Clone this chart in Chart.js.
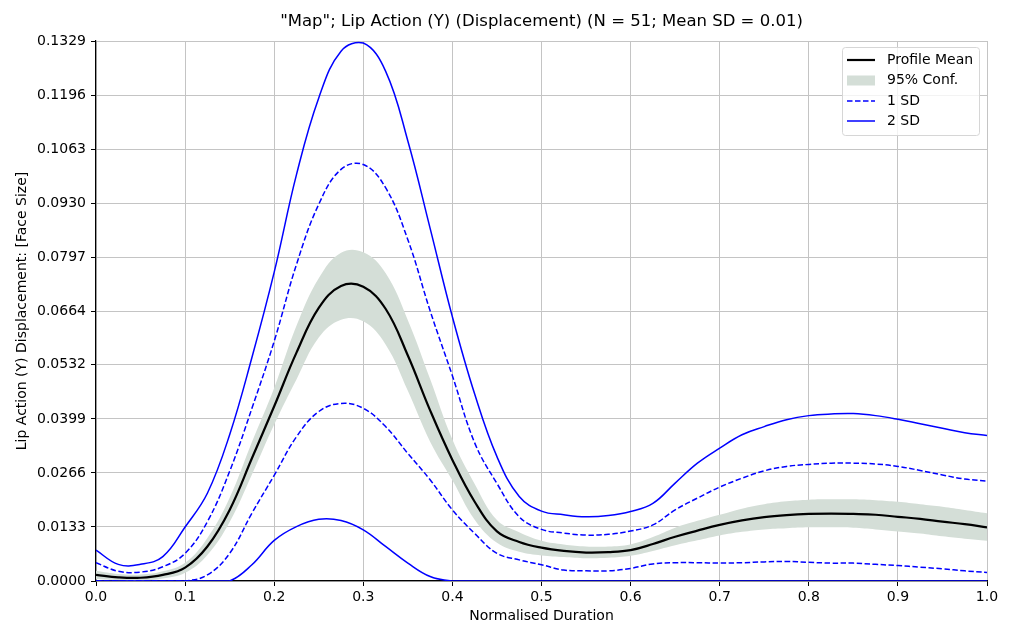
<!DOCTYPE html>
<html>
<head>
<meta charset="utf-8">
<script src="https://cdn.jsdelivr.net/npm/chart.js@4.4.1/dist/chart.umd.min.js"></script>
<style>
html,body{margin:0;padding:0;background:#fff;}
canvas{display:block;}
</style>
</head>
<body>
<canvas id="c" width="1012" height="626"></canvas>
<script>
// ---- data ----
const xs = [0,0.025,0.05,0.075,0.1,0.125,0.15,0.175,0.2,0.225,0.25,0.275,0.3,0.325,0.35,0.375,0.4,0.425,0.45,0.475,0.5,0.525,0.55,0.575,0.6,0.625,0.65,0.675,0.7,0.725,0.75,0.775,0.8,0.825,0.85,0.875,0.9,0.925,0.95,0.975,1.0];
const profileMean = [0.0015,0.0009,0.0008,0.0015,0.0033,0.0085,0.0175,0.0302,0.0430,0.0562,0.0672,0.0726,0.0724,0.0670,0.0555,0.0420,0.0298,0.0195,0.0122,0.0096,0.0082,0.0074,0.0070,0.0071,0.0076,0.0091,0.0109,0.0124,0.0138,0.0149,0.0157,0.0162,0.0165,0.0166,0.0165,0.0163,0.0158,0.0153,0.0146,0.0140,0.0132];
const confUpper = [0.0025,0.0017,0.0016,0.0024,0.0045,0.0106,0.0205,0.0342,0.0475,0.0628,0.0745,0.0808,0.0809,0.0758,0.0642,0.0497,0.0348,0.0239,0.0150,0.0120,0.0099,0.0090,0.0085,0.0085,0.0090,0.0108,0.0131,0.0148,0.0163,0.0178,0.0189,0.0196,0.0200,0.0201,0.0201,0.0199,0.0195,0.0189,0.0183,0.0175,0.0167];
const confLower = [0.0005,0.0002,0.0001,0.0006,0.0020,0.0064,0.0145,0.0262,0.0385,0.0496,0.0599,0.0643,0.0639,0.0582,0.0468,0.0343,0.0248,0.0151,0.0094,0.0072,0.0063,0.0059,0.0056,0.0057,0.0062,0.0074,0.0088,0.0100,0.0112,0.0121,0.0127,0.0130,0.0132,0.0132,0.0131,0.0127,0.0122,0.0117,0.0110,0.0104,0.0099];
const sd1Upper = [0.0045,0.0024,0.0022,0.0035,0.0068,0.0146,0.0270,0.0425,0.0590,0.0779,0.0927,0.1013,0.1025,0.0968,0.0840,0.0665,0.0505,0.0340,0.0240,0.0158,0.0127,0.0118,0.0113,0.0115,0.0123,0.0138,0.0175,0.0204,0.0231,0.0253,0.0271,0.0282,0.0287,0.0290,0.0290,0.0288,0.0282,0.0272,0.0261,0.0251,0.0246];
const sd1Lower = [0,0,0,0,0,0.0015,0.0068,0.0167,0.0260,0.0355,0.0417,0.0437,0.0425,0.0380,0.0314,0.0249,0.0175,0.0117,0.0068,0.0052,0.0040,0.0027,0.0025,0.0025,0.0031,0.0042,0.0045,0.0045,0.0044,0.0045,0.0047,0.0048,0.0046,0.0044,0.0044,0.0041,0.0038,0.0034,0.0030,0.0025,0.0021];
const sd2Upper = [0.0076,0.0041,0.0041,0.0060,0.0133,0.0216,0.0360,0.0550,0.0760,0.1000,0.1189,0.1304,0.1324,0.1255,0.1083,0.0868,0.0650,0.0460,0.0306,0.0208,0.0172,0.0163,0.0158,0.0161,0.0171,0.0191,0.0241,0.0290,0.0327,0.0360,0.0380,0.0397,0.0407,0.0411,0.0412,0.0407,0.0398,0.0387,0.0376,0.0365,0.0358];
const sd2Lower = [0,0,0,0,0,0,0,0.0040,0.0100,0.0134,0.0152,0.0149,0.0126,0.0085,0.0044,0.0011,0,0,0,0,0,0,0,0,0,0,0,0,0,0,0,0,0,0,0,0,0,0,0,0,0];
const yTicks = [0.0000,0.0133,0.0266,0.0399,0.0532,0.0664,0.0797,0.0930,0.1063,0.1196,0.1329];
const xTickStep = 0.1;
const titleText = '"Map"; Lip Action (Y) (Displacement) (N = 51; Mean SD = 0.01)';
const xTitle = 'Normalised Duration';
const yTitle = 'Lip Action (Y) Displacement: [Face Size]';
const legendLabels = ['Profile Mean','95% Conf.','1 SD','2 SD'];

// ---- styling ----
const FONT = "'DejaVu Sans', sans-serif";
const BAND = 'rgb(212,222,215)';
const BLUE = '#0000ff';
const pts = arr => xs.map((x,i) => ({x: x, y: arr[i]}));

Chart.defaults.color = '#000';
Chart.defaults.font.family = FONT;
Chart.defaults.font.size = 14;

const lineBase = {pointRadius: 0, pointHoverRadius: 0, tension: 0.4, fill: false};

const overlay = {
  id: 'overlay',
  afterDraw(chart) {
    const ctx = chart.ctx, ca = chart.chartArea;
    ctx.save();
    ctx.fillStyle = '#000';
    ctx.font = '16.5px ' + FONT;
    ctx.textAlign = 'center';
    ctx.textBaseline = 'middle';
    ctx.fillText(titleText, (ca.left + ca.right) / 2, 22);
    const bx = 842.5, by = 47.5, bw = 137, bh = 88, r = 3;
    ctx.beginPath();
    ctx.moveTo(bx + r, by);
    ctx.lineTo(bx + bw - r, by); ctx.arcTo(bx + bw, by, bx + bw, by + r, r);
    ctx.lineTo(bx + bw, by + bh - r); ctx.arcTo(bx + bw, by + bh, bx + bw - r, by + bh, r);
    ctx.lineTo(bx + r, by + bh); ctx.arcTo(bx, by + bh, bx, by + bh - r, r);
    ctx.lineTo(bx, by + r); ctx.arcTo(bx, by, bx + r, by, r);
    ctx.closePath();
    ctx.fillStyle = 'rgba(255,255,255,0.8)';
    ctx.fill();
    ctx.strokeStyle = '#d6d6d6';
    ctx.lineWidth = 1;
    ctx.stroke();
    const sx0 = 847, sx1 = 875, tx = 887;
    const rows = [60, 80.5, 101, 121];
    ctx.lineCap = 'butt';
    ctx.beginPath(); ctx.strokeStyle = '#000'; ctx.lineWidth = 2.2; ctx.setLineDash([]);
    ctx.moveTo(sx0, rows[0]); ctx.lineTo(sx1, rows[0]); ctx.stroke();
    ctx.fillStyle = BAND; ctx.fillRect(sx0, rows[1] - 5, sx1 - sx0, 10);
    ctx.beginPath(); ctx.strokeStyle = BLUE; ctx.lineWidth = 1.5; ctx.setLineDash([5.5, 2.5]);
    ctx.moveTo(sx0, rows[2]); ctx.lineTo(sx1, rows[2]); ctx.stroke();
    ctx.beginPath(); ctx.setLineDash([]);
    ctx.moveTo(sx0, rows[3]); ctx.lineTo(sx1, rows[3]); ctx.stroke();
    ctx.fillStyle = '#000';
    ctx.font = '14px ' + FONT;
    ctx.textAlign = 'left';
    ctx.textBaseline = 'middle';
    legendLabels.forEach((t, i) => ctx.fillText(t, tx, rows[i]));
    ctx.restore();
  }
};

new Chart(document.getElementById('c'), {
  type: 'line',
  data: {
    datasets: [
      Object.assign({}, lineBase, {label: legendLabels[0], data: pts(profileMean), borderColor: '#000', borderWidth: 2.2}),
      Object.assign({}, lineBase, {label: '1 SD upper', data: pts(sd1Upper), borderColor: BLUE, borderWidth: 1.5, borderDash: [5.5, 2.5]}),
      Object.assign({}, lineBase, {label: '1 SD lower', data: pts(sd1Lower), borderColor: BLUE, borderWidth: 1.5, borderDash: [5.5, 2.5]}),
      Object.assign({}, lineBase, {label: '2 SD upper', data: pts(sd2Upper), borderColor: BLUE, borderWidth: 1.5}),
      Object.assign({}, lineBase, {label: '2 SD lower', data: pts(sd2Lower), borderColor: BLUE, borderWidth: 1.5}),
      Object.assign({}, lineBase, {label: 'conf upper', data: pts(confUpper), borderWidth: 0, borderColor: 'rgba(0,0,0,0)', backgroundColor: BAND, fill: '+1'}),
      Object.assign({}, lineBase, {label: 'conf lower', data: pts(confLower), borderWidth: 0, borderColor: 'rgba(0,0,0,0)'})
    ]
  },
  options: {
    responsive: false,
    devicePixelRatio: 1,
    animation: false,
    events: [],
    layout: {padding: {left: 0, right: 25, top: 41, bottom: 0}},
    plugins: {legend: {display: false}, tooltip: {enabled: false}, title: {display: false}},
    scales: {
      x: {
        type: 'linear', min: 0, max: 1,
        ticks: {stepSize: xTickStep, padding: 3, callback: v => Number(v).toFixed(1), maxRotation: 0, autoSkip: false, font: {size: 14}},
        grid: {color: '#c4c4c4', lineWidth: 1, tickColor: '#000', tickLength: 5, tickWidth: 1},
        border: {display: true, color: '#000', width: 1.2},
        title: {display: true, text: xTitle, font: {size: 14}, padding: {top: 0, bottom: 1}},
        afterFit: s => { s.height = 45; }
      },
      y: {
        type: 'linear', min: 0, max: 0.1329,
        afterBuildTicks: s => { s.ticks = yTicks.map(v => ({value: v})); },
        ticks: {padding: 5, callback: v => Number(v).toFixed(4), autoSkip: false, font: {size: 14}},
        grid: {color: '#c4c4c4', lineWidth: 1, tickColor: '#000', tickLength: 5, tickWidth: 1},
        border: {display: true, color: '#000', width: 1.2},
        title: {display: true, text: yTitle, font: {size: 14}, padding: {top: 14, bottom: 0}},
        afterFit: s => { s.width = 96; }
      }
    }
  },
  plugins: [overlay]
});
</script>
</body>
</html>
